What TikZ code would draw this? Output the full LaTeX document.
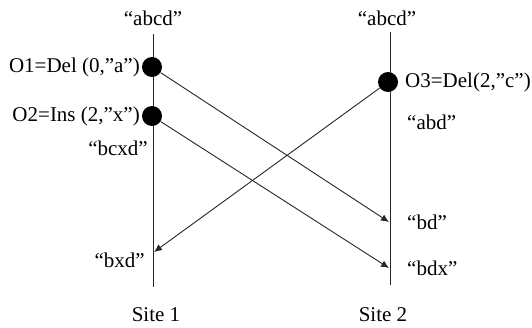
\documentclass[tikz,border=0pt]{standalone}
\usepackage{fontspec}
\setmainfont{Liberation Serif}
\usetikzlibrary{arrows.meta}
\begin{document}
\begin{tikzpicture}[x=1pt,y=-1pt,
  timeline/.style={line width=1pt,draw=black!85},
  msg/.style={line width=0.9pt,draw=black!85,-{Latex[length=8pt,width=7pt]}},
  event/.style={circle,fill=black,inner sep=0pt,minimum size=20pt},
  lbl/.style={font=\fontsize{21}{24}\selectfont,inner sep=0pt}]
\useasboundingbox (0,0) rectangle (532,327);
% time lines of the two sites
\coordinate (s1top) at (153,34);
\coordinate (s1bot) at (153,287);
\coordinate (s2top) at (390,32);
\coordinate (s2bot) at (390,285);
\draw[timeline] (s1top) -- (s1bot);
\draw[timeline] (s2top) -- (s2bot);
% operations generated at each site
\node[event] (o1) at (152,67) {};
\node[event] (o2) at (152,116) {};
\node[event] (o3) at (388,82) {};
% points where remote operations arrive
\coordinate (r1) at (389,222);
\coordinate (r2) at (389,268);
\coordinate (r3) at (154,252);
\draw[msg] (o1) -- (r1);
\draw[msg] (o2) -- (r2);
\draw[msg] (o3) -- (r3);
% document states and labels
\node[lbl] (st1) at (153,18) {“abcd”};
\node[lbl] (st2) at (387,18) {“abcd”};
\node[lbl,anchor=east] (l1) at (140,67) {O1=Del (0,”a”)};
\node[lbl,anchor=east] (l2) at (140,116) {O2=Ins (2,”x”)};
\node[lbl,anchor=east] (st3) at (148,148) {“bcxd”};
\node[lbl,anchor=east] (st4) at (145,260) {“bxd”};
\node[lbl,anchor=west] (l3) at (405,82) {O3=Del(2,”c”)};
\node[lbl,anchor=west] (st5) at (407,122) {“abd”};
\node[lbl,anchor=west] (st6) at (407,222) {“bd”};
\node[lbl,anchor=west] (st7) at (407,268) {“bdx”};
\node[lbl] (site1) at (156,315) {Site 1};
\node[lbl] (site2) at (383,315) {Site 2};
\end{tikzpicture}
\end{document}
